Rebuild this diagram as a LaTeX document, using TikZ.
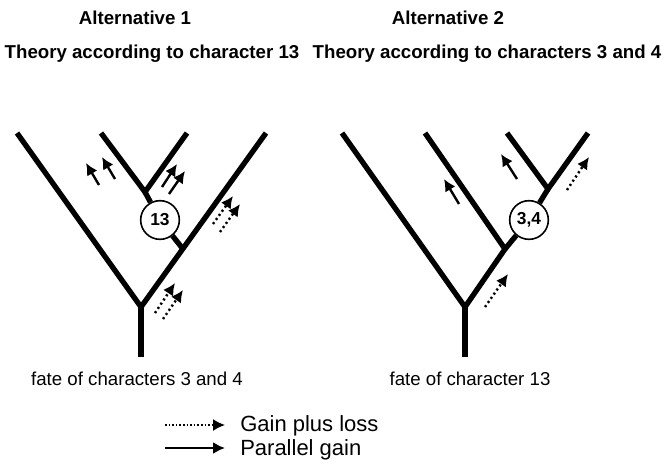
\documentclass[tikz,border=0pt]{standalone}
\usepackage{fontspec}
\setmainfont{Liberation Sans}
\usetikzlibrary{arrows.meta}

\tikzset{
    branch/.style={line width=4pt},
    charcirc/.style={circle, draw, line width=1.2pt, fill=white, minimum size=29pt,
        inner sep=0pt, font=\bfseries\fontsize{13}{13}\selectfont},
    pgain/.style={line width=1.8pt, -{Latex[length=9pt,width=9pt]}},
    glgain/.style={line width=1.8pt, dash pattern=on 1.6pt off 2.2pt, -{Latex[length=9pt,width=9pt]}},
    titletext/.style={anchor=base, font=\bfseries\fontsize{14}{16}\selectfont},
    fatetext/.style={anchor=base, font=\fontsize{14}{16}\selectfont},
    legendtext/.style={anchor=base west, inner xsep=0pt, font=\fontsize{16.5}{18}\selectfont}
}

\begin{document}
\begin{tikzpicture}[x=0.75pt, y=-0.75pt]
    \useasboundingbox (0,0) rectangle (667,465);

    % the titles
    \node[titletext] (alt1) at (135,24) {Alternative 1};
    \node[titletext] (alt2) at (448,24) {Alternative 2};
    \node[titletext] (theo1) at (152,58) {Theory according to character 13};
    \node[titletext] (theo2) at (487,58) {Theory according to characters 3 and 4};

    % the points of the first tree
    \coordinate (r1) at (141,357);
    \coordinate (f1) at (141,307);
    \coordinate (l1) at (17,133);
    \coordinate (t1) at (266,133);
    \coordinate (b1) at (183,249);
    \coordinate (c1) at (145,192);
    \coordinate (u1) at (101,133);
    \coordinate (v1) at (187,133);
    \node[charcirc] (n13) at (160,220) {13};

    % the points of the second tree
    \coordinate (r2) at (465,357);
    \coordinate (f2) at (465,307);
    \coordinate (l2) at (342,133);
    \coordinate (d2) at (505,249);
    \coordinate (m2) at (425,133);
    \coordinate (e2) at (548,189);
    \coordinate (u2) at (507,133);
    \coordinate (v2) at (588,133);
    \node[charcirc] (n34) at (529,220) {3,4};

    % draw the branches
    \draw[branch] (r1) -- (f1);
    \draw[branch] (l1) -- (f1) -- (t1);
    \draw[branch] (b1) -- (n13);
    \draw[branch] (n13) -- (c1);
    \draw[branch] (u1) -- (c1) -- (v1);
    %
    \draw[branch] (r2) -- (f2);
    \draw[branch] (l2) -- (f2) -- (d2) -- (m2);
    \draw[branch] (d2) -- (n34);
    \draw[branch] (n34) -- (e2);
    \draw[branch] (u2) -- (e2) -- (v2);

    % ends of the arrows on the first tree
    \coordinate (a1) at (99,185);   \coordinate (a1e) at (86,163);
    \coordinate (a2) at (115,179);  \coordinate (a2e) at (102,157);
    \coordinate (a3) at (162,187);  \coordinate (a3e) at (177,164);
    \coordinate (a4) at (169,194);  \coordinate (a4e) at (185,171);
    \coordinate (a5) at (213,224);  \coordinate (a5e) at (233,196);
    \coordinate (a6) at (220,232);  \coordinate (a6e) at (240,204);
    \coordinate (a7) at (155,313);  \coordinate (a7e) at (175,283);
    \coordinate (a8) at (163,319);  \coordinate (a8e) at (183,290);
    % ends of the arrows on the second tree
    \coordinate (a9) at (459,204);  \coordinate (a9e) at (444,179);
    \coordinate (a10) at (517,179); \coordinate (a10e) at (501,154);
    \coordinate (a11) at (567,190); \coordinate (a11e) at (589,157);
    \coordinate (a12) at (485,307); \coordinate (a12e) at (508,274);

    % draw the arrows
    \draw[pgain] (a1) -- (a1e);
    \draw[pgain] (a2) -- (a2e);
    \draw[pgain] (a3) -- (a3e);
    \draw[pgain] (a4) -- (a4e);
    \draw[glgain] (a5) -- (a5e);
    \draw[glgain] (a6) -- (a6e);
    \draw[glgain] (a7) -- (a7e);
    \draw[glgain] (a8) -- (a8e);
    %
    \draw[pgain] (a9) -- (a9e);
    \draw[pgain] (a10) -- (a10e);
    \draw[glgain] (a11) -- (a11e);
    \draw[glgain] (a12) -- (a12e);

    % the texts under the trees
    \node[fatetext] (fate1) at (137,385) {fate of characters 3 and 4};
    \node[fatetext] (fate2) at (470,385) {fate of character 13};

    % the legend
    \coordinate (k1) at (165,425); \coordinate (k1e) at (225,425);
    \coordinate (k2) at (165,448); \coordinate (k2e) at (225,448);
    \draw[glgain, line width=1.2pt, dash pattern=on 1.2pt off 1.5pt] (k1) -- (k1e);
    \draw[pgain, line width=1.6pt] (k2) -- (k2e);
    \node[legendtext] (gl) at (240,431) {Gain plus loss};
    \node[legendtext] (pg) at (240,455) {Parallel gain};
\end{tikzpicture}
\end{document}
